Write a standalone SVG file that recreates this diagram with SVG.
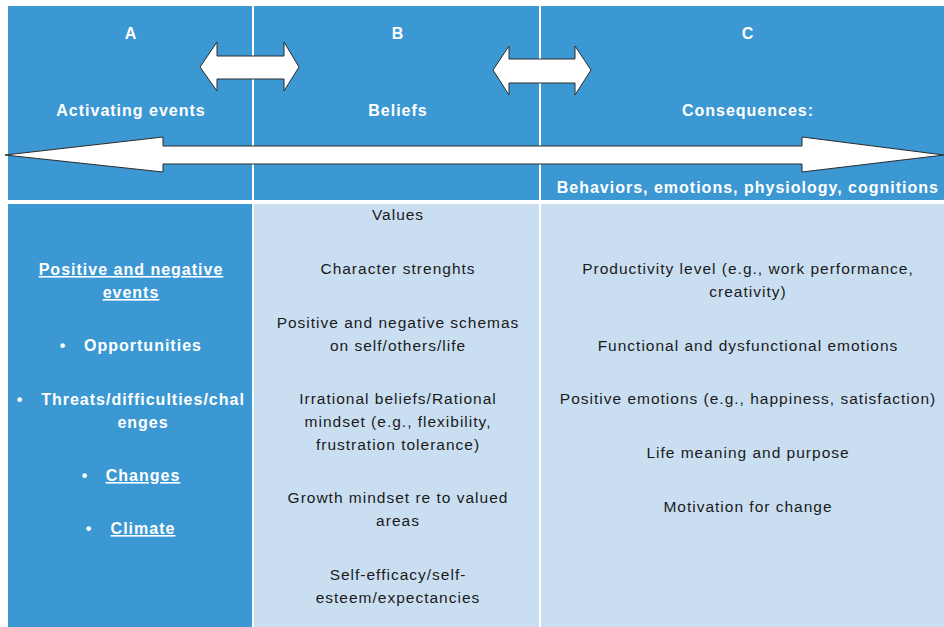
<svg xmlns="http://www.w3.org/2000/svg" width="944" height="627" viewBox="0 0 944 627">
  <style>
    .dark { fill: #3c98d3; }
    .light { fill: #cadef2; }
    .head { font-family: "Liberation Sans", Arial, sans-serif; font-weight: bold; font-size: 16px; letter-spacing: 1px; fill: #ffffff; text-anchor: middle; }
    .item { font-family: "Liberation Sans", Arial, sans-serif; font-size: 15.5px; letter-spacing: 1px; fill: #1a1a1a; text-anchor: middle; }
    .aitem { font-family: "Liberation Sans", Arial, sans-serif; font-weight: bold; font-size: 16px; letter-spacing: 1px; fill: #ffffff; text-anchor: middle; }
    .u { text-decoration: underline; }
    .arrow { fill: #ffffff; stroke: #2b2b2b; stroke-width: 1; stroke-linejoin: miter; }
  </style>

  <rect width="944" height="627" fill="#ffffff"/>

  <!-- Column A -->
  <g id="col-a">
    <rect class="dark" x="8" y="6" width="244" height="194"/>
    <rect class="dark" x="8" y="204" width="244" height="423"/>
    <text class="head" x="131" y="39">A</text>
    <text class="head" x="131" y="116">Activating events</text>
    <text class="aitem u" x="131" y="275">Positive and negative</text>
    <text class="aitem u" x="131" y="298">events</text>
    <text class="aitem" x="63" y="351">•</text>
    <text class="aitem" x="143" y="351">Opportunities</text>
    <text class="aitem" x="20" y="405">•</text>
    <text class="aitem" x="143" y="405">Threats/difficulties/chal</text>
    <text class="aitem" x="143" y="428">enges</text>
    <text class="aitem" x="85" y="481">•</text>
    <text class="aitem u" x="143" y="481">Changes</text>
    <text class="aitem" x="89" y="534">•</text>
    <text class="aitem u" x="143" y="534">Climate</text>
  </g>

  <!-- Column B -->
  <g id="col-b">
    <rect class="dark" x="254" y="6" width="285" height="194"/>
    <rect class="light" x="254" y="204" width="285" height="423"/>
    <text class="head" x="398" y="39">B</text>
    <text class="head" x="398" y="116">Beliefs</text>
    <text class="item" x="398" y="220">Values</text>
    <text class="item" x="398" y="274">Character strenghts</text>
    <text class="item" x="398" y="328">Positive and negative schemas</text>
    <text class="item" x="398" y="351">on self/others/life</text>
    <text class="item" x="398" y="404">Irrational beliefs/Rational</text>
    <text class="item" x="398" y="427">mindset (e.g., flexibility,</text>
    <text class="item" x="398" y="450">frustration tolerance)</text>
    <text class="item" x="398" y="503">Growth mindset re to valued</text>
    <text class="item" x="398" y="526">areas</text>
    <text class="item" x="398" y="580">Self-efficacy/self-</text>
    <text class="item" x="398" y="603">esteem/expectancies</text>
  </g>

  <!-- Column C -->
  <g id="col-c">
    <rect class="dark" x="541" y="6" width="403" height="194"/>
    <rect class="light" x="541" y="204" width="403" height="423"/>
    <text class="head" x="748" y="39">C</text>
    <text class="head" x="748" y="116">Consequences:</text>
    <text class="head" x="939" y="193" style="text-anchor:end">Behaviors, emotions, physiology, cognitions</text>
    <text class="item" x="748" y="274">Productivity level (e.g., work performance,</text>
    <text class="item" x="748" y="297">creativity)</text>
    <text class="item" x="748" y="351">Functional and dysfunctional emotions</text>
    <text class="item" x="748" y="404">Positive emotions (e.g., happiness, satisfaction)</text>
    <text class="item" x="748" y="458">Life meaning and purpose</text>
    <text class="item" x="748" y="512">Motivation for change</text>
  </g>

  <!-- Connectors: block double arrows -->
  <g id="connectors">
    <!-- A <-> B -->
    <path class="arrow" d="M200,67 L217,42 L217,56 L284,56 L284,42 L299,67 L284,91 L284,79 L217,79 L217,91 Z"/>
    <!-- B <-> C -->
    <path class="arrow" d="M493,70 L509,46 L509,59 L575,59 L575,46 L591,70 L575,95 L575,83 L509,83 L509,95 Z"/>
    <!-- A <-> C spanning arrow -->
    <path class="arrow" d="M5,155 L163,137 L163,146 L802,146 L802,137 L944,155 L802,172 L802,164 L163,164 L163,172 Z"/>
  </g>
</svg>
